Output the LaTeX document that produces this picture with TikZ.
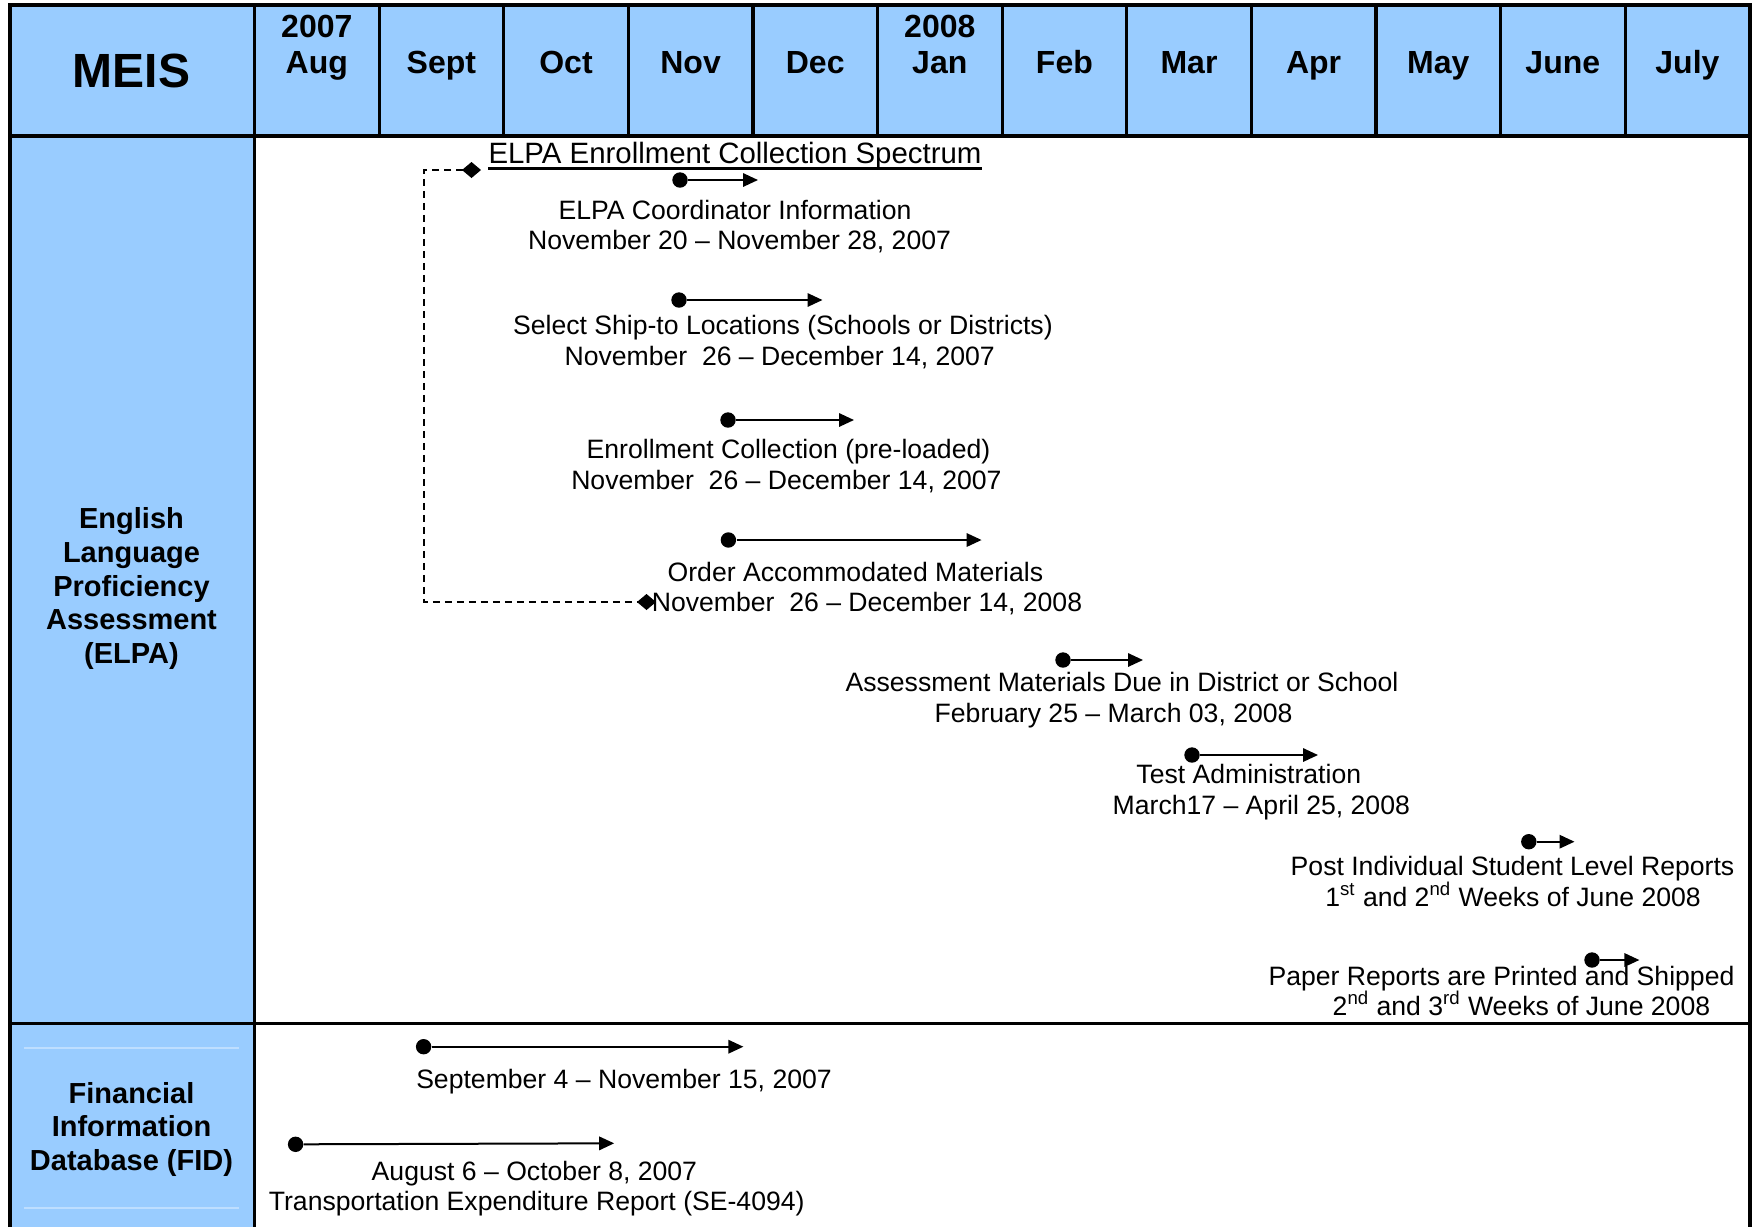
\documentclass[tikz,border=0pt]{standalone}
\usepackage{fontspec}
\setmainfont{Liberation Sans}
\usetikzlibrary{arrows.meta}
\definecolor{hdrblue}{RGB}{153,204,255}
\definecolor{faintline}{RGB}{190,222,255}
\begin{document}
\begin{tikzpicture}[x=0.5pt,y=-0.5pt,
  grid/.style={line width=1.6pt,black},
  hdr/.style={font=\bfseries\fontsize{16}{18}\selectfont,anchor=base,inner sep=0pt},
  body/.style={font=\fontsize{13.3}{15}\selectfont,anchor=base,inner sep=0pt},
  lab/.style={font=\bfseries\fontsize{14.5}{16.8}\selectfont,align=center,inner sep=0pt},
  dot/.style={circle,fill=black,inner sep=0pt,minimum size=7.7pt},
  bar/.style={line width=1pt,-{Triangle[length=7.5pt,width=6.7pt]}},
  link/.style={line width=0.7pt,dash pattern=on 3.5pt off 2.5pt,
    {Diamond[length=9.5pt,width=8pt]}-{Diamond[length=9.5pt,width=8pt]}}
]
\useasboundingbox (0,0) rectangle (1754,1227);
\fill[white] (0,0) rectangle (1754,1227);
% table backgrounds
\fill[hdrblue] (10,5) rectangle (1750,136);
\fill[hdrblue] (10,136) rectangle (254.5,1227);
\draw[faintline,line width=0.6pt] (24,1048) -- (239,1048) (24,1208) -- (239,1208);
% table rules
\draw[grid] (10,1227) -- (10,5) -- (1750,5) -- (1750,1227);
\draw[grid] (10,136) -- (1750,136);
\draw[grid] (10,1023.5) -- (1750,1023.5);
\draw[grid] (254.5,5) -- (254.5,1227);
\foreach \i in {1,...,11} \draw[grid] ({254.5+124.6*\i},5) -- ({254.5+124.6*\i},136);
% header
\node[font=\bfseries\fontsize{24}{28}\selectfont,anchor=base,inner sep=0pt] (meis) at (131.5,87.3) {MEIS};
\foreach \m [count=\i from 0] in {Aug,Sept,Oct,Nov,Dec,Jan,Feb,Mar,Apr,May,June,July}
  \node[hdr] (m\i) at ({316.8+124.6*\i},73.5) {\m};
\node[hdr] (y2007) at (316.8,37) {2007};
\node[hdr] (y2008) at (939.8,37) {2008};
% row labels
\node[lab] (elpa) at (131.5,588.5) {English\\Language\\Proficiency\\Assessment\\(ELPA)};
\node[lab] (fid) at (131.5,1129.2) {Financial\\Information\\Database (FID)};
% title and bracket connector
\node[body,font=\fontsize{14.7}{16}\selectfont] (title) at (735,163.3) {ELPA Enrollment Collection Spectrum};
\draw[line width=1.3pt] ([yshift=-2.5pt]title.base west) -- ([yshift=-2.5pt]title.base east);
\coordinate (lkA) at (481,170);
\coordinate (lkB) at (656,602);
\draw[link] (lkA) -- (424,170) |- (lkB);
% ELPA items
\node[dot] (s1) at (680,180) {}; \coordinate (e1) at (758,180); \draw[bar] (s1) -- (e1);
\node[body] (c1a) at (735,219.3) {ELPA Coordinator Information};
\node[body] (c1b) at (739.5,249) {November 20 – November 28, 2007};
\node[dot] (s2) at (679,300) {}; \coordinate (e2) at (822.5,300); \draw[bar] (s2) -- (e2);
\node[body] (c2a) at (782.9,334) {Select Ship-to Locations (Schools or Districts)};
\node[body] (c2b) at (779.7,365) {November\ \ 26 – December 14, 2007};
\node[dot] (s3) at (728,420) {}; \coordinate (e3) at (854,420); \draw[bar] (s3) -- (e3);
\node[body] (c3a) at (788.5,458.3) {Enrollment Collection (pre-loaded)};
\node[body] (c3b) at (786.4,489.3) {November\ \ 26 – December 14, 2007};
\node[dot] (s4) at (728.4,540) {}; \coordinate (e4) at (981.6,540); \draw[bar] (s4) -- (e4);
\node[body] (c4a) at (855.4,581) {Order Accommodated Materials};
\node[body] (c4b) at (867,611) {November\ \ 26 – December 14, 2008};
\node[dot] (s5) at (1063,660) {}; \coordinate (e5) at (1143,660); \draw[bar] (s5) -- (e5);
\node[body] (c5a) at (1122,691.7) {Assessment Materials Due in District or School};
\node[body] (c5b) at (1113.6,722.7) {February 25 – March 03, 2008};
\node[dot] (s6) at (1192,755) {}; \coordinate (e6) at (1318,755); \draw[bar] (s6) -- (e6);
\node[body] (c6a) at (1248.8,783.3) {Test Administration};
\node[body] (c6b) at (1261.3,814.3) {March17 – April 25, 2008};
\node[dot] (s7) at (1528.8,841.7) {}; \coordinate (e7) at (1574.5,841.7); \draw[bar] (s7) -- (e7);
\node[body] (c7a) at (1512.5,875) {Post Individual Student Level Reports};
\node[body] (c7b) at (1513,906) {1\textsuperscript{st} and 2\textsuperscript{nd} Weeks of June 2008};
\node[dot] (s8) at (1592,960) {}; \coordinate (e8) at (1639.4,960); \draw[bar] (s8) -- (e8);
\node[body] (c8a) at (1501.5,985.7) {Paper Reports are Printed and Shipped};
\node[body] (c8b) at (1521.4,1015) {2\textsuperscript{nd} and 3\textsuperscript{rd} Weeks of June 2008};
% FID items
\node[dot] (s9) at (423.6,1046.7) {}; \coordinate (e9) at (743.4,1046.7); \draw[bar] (s9) -- (e9);
\node[body] (f1) at (624,1088.3) {September 4 – November 15, 2007};
\node[dot] (s10) at (295.6,1144.3) {}; \coordinate (e10) at (614.2,1143.3); \draw[bar] (s10) -- (e10);
\node[body] (f2a) at (534.4,1180) {August 6 – October 8, 2007};
\node[body] (f2b) at (536.7,1210.7) {Transportation Expenditure Report (SE-4094)};
\end{tikzpicture}
\end{document}
